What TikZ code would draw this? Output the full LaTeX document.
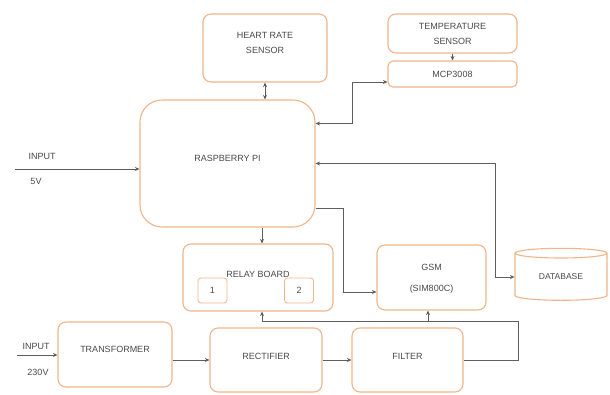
\documentclass[tikz,border=0pt]{standalone}
\usepackage{fontspec}
\setmainfont{Liberation Sans}
\usetikzlibrary{shapes.geometric,arrows.meta}
\definecolor{bord}{HTML}{F2B48A}
\definecolor{ln}{HTML}{5E5E5E}
\definecolor{tx}{HTML}{4A4A4A}
\newcommand\rtxt[2]{\raisebox{#1}{\begin{tabular}{@{}c@{}}#2\end{tabular}}}
\tikzset{
  box/.style={draw=bord, line width=1.1pt, fill=white, rounded corners=8pt, text=tx,
    font=\fontsize{9}{15}\selectfont, align=center, inner sep=0pt},
  smallbox/.style={box, rounded corners=3pt, line width=0.8pt},
  lbl/.style={text=tx, font=\fontsize{9}{11}\selectfont, inner sep=0pt},
  conn/.style={draw=ln, line width=0.8pt, -{Stealth[length=4.5pt,width=4pt]}},
  dconn/.style={draw=ln, line width=0.8pt, {Stealth[length=4.5pt,width=4pt]}-{Stealth[length=4.5pt,width=4pt]}},
  wire/.style={draw=ln, line width=0.8pt}
}
\begin{document}
\begin{tikzpicture}[x=1pt,y=-1pt]
\fill[white] (0,0) rectangle (610,394);
% boxes
\node[box, minimum width=124pt, minimum height=68pt] (heart) at (265,48) {\rtxt{22pt}{HEART RATE\\SENSOR}};
\node[box, minimum width=129pt, minimum height=39pt] (temp) at (452.5,33.5) {\rtxt{0pt}{TEMPERATURE\\SENSOR}};
\node[box, rounded corners=5pt, minimum width=129pt, minimum height=26pt] (mcp) at (452.5,74) {MCP3008};
\node[box, rounded corners=22pt, minimum width=175pt, minimum height=127pt] (rpi) at (227.5,163.5) {\raisebox{10pt}{RASPBERRY PI}};
\node[box, minimum width=150pt, minimum height=67pt] (relay) at (258,277.5) {\raisebox{6pt}{RELAY BOARD}};
\node[smallbox, minimum width=29pt, minimum height=25pt] (r1) at (212.5,290.5) {1};
\node[smallbox, minimum width=29pt, minimum height=25pt] (r2) at (299,290.5) {2};
\node[box, minimum width=109pt, minimum height=65pt] (gsm) at (431.5,277.5) {\rtxt{14pt}{GSM\\[6pt](SIM800C)}};
\node[cylinder, shape border rotate=90, aspect=0.22, draw=bord, line width=1.1pt, fill=white,
  minimum width=92pt, minimum height=52pt, text=tx, font=\fontsize{8.5}{10}\selectfont, inner sep=0pt] (db) at (561,277) {DATABASE};
\node[box, minimum width=114pt, minimum height=65pt] (trans) at (115,354.5) {\raisebox{11pt}{TRANSFORMER}};
\node[box, minimum width=112pt, minimum height=64pt] (rect) at (266,360) {\raisebox{8pt}{RECTIFIER}};
\node[box, minimum width=111pt, minimum height=64pt] (filt) at (407.5,360) {\raisebox{8pt}{FILTER}};
% input labels
\node[lbl] (in5a) at (42,156) {INPUT};
\node[lbl] (in5b) at (36,181) {5V};
\node[lbl] (in230a) at (36,346) {INPUT};
\node[lbl] (in230b) at (38,372) {230V};
% coordinates
\coordinate (in5) at (15,169);
\coordinate (in230) at (17,355);
\coordinate (rx) at (262,0);
\coordinate (fb) at (518,321);
% connectors
\draw[conn] (in5) -- (rpi.west |- in5);
\draw[conn] (in230) -- (trans.west |- in230);
\draw[dconn] (heart.south) -- (heart.south |- rpi.north);
\draw[conn] (temp.south) -- (mcp.north);
\draw[dconn] ([yshift=40pt]rpi.east) -- ++(37,0) |- ([yshift=-8pt]mcp.west);
\draw[dconn] (rpi.east) -| ([xshift=-19pt]db.west) -- (db.west);
\draw[conn] ([yshift=-44.5pt]rpi.east) -- ++(28,0) |- ([yshift=-14.5pt]gsm.west);
\draw[conn] (rx |- rpi.south) -- (rx |- relay.north);
\draw[conn] (trans.east |- rect.west) -- (rect.west);
\draw[conn] (rect.east) -- (filt.west);
\draw[wire] (filt.east) -| (fb) -- (rx |- fb);
\draw[conn] (rx |- fb) -- (rx |- relay.south);
\draw[conn] ([xshift=-3.5pt]gsm.south |- fb) -- ([xshift=-3.5pt]gsm.south);
\end{tikzpicture}
\end{document}
